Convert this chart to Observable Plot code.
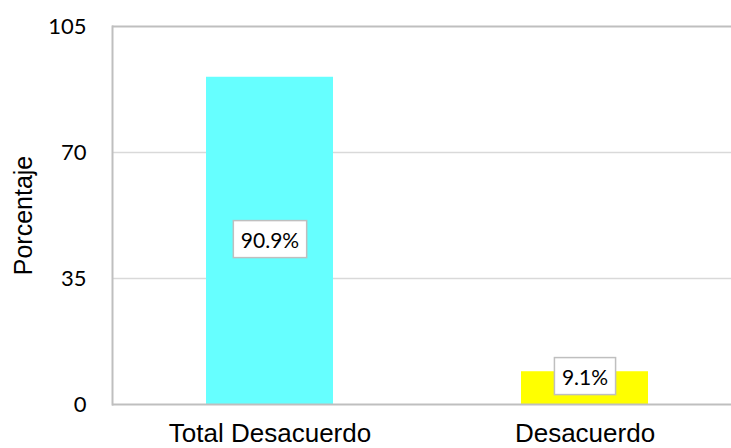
<!DOCTYPE html>
<html>
<head>
<meta charset="utf-8">
<script src="https://cdn.jsdelivr.net/npm/d3@7"></script>
<script src="https://cdn.jsdelivr.net/npm/@observablehq/plot@0.6"></script>
<style>
  html, body { margin: 0; padding: 0; background: #fff; }
  #chart svg { display: block; overflow: visible; }
</style>
</head>
<body>
<div id="chart"></div>
<script>
const categories = ["Total Desacuerdo", "Desacuerdo"];
const values = [90.9, 9.1];
const barColors = ["#66FFFF", "#FFFF00"];
const yTicks = [0, 35, 70, 105];
const yLabel = "Porcentaje";

const data = categories.map((c, i) => ({cat: c, value: values[i], color: barColors[i]}));

const chart = Plot.plot({
  width: 731,
  height: 448,
  marginLeft: 112,
  marginRight: 0,
  marginTop: 26,
  marginBottom: 44,
  style: {fontFamily: "Liberation Sans, Arial, sans-serif", background: "#fff"},
  x: {domain: categories, range: [112, 742], padding: 0},
  y: {domain: [0, 105]},
  color: {type: "identity"},
  marks: [
    Plot.ruleY([35, 70], {stroke: "#d9d9d9", strokeWidth: 1.5}),
    Plot.barY(data, {x: "cat", y: "value", fill: "color", insetLeft: 94, insetRight: 94}),
    Plot.ruleY([0, 105], {stroke: "#bfbfbf", strokeWidth: 2}),
    Plot.frame({anchor: "left", stroke: "#bfbfbf", strokeWidth: 2}),
    Plot.axisY({ticks: yTicks, tickSize: 0, tickPadding: 26, fontSize: 22, fontFamily: "Lato", label: null, fill: "#000"}),
    Plot.axisX({tickSize: 0, tickPadding: 19, fontSize: 26, fontFamily: "Liberation Sans", label: null, fill: "#000"}),
    Plot.text(data, {
      x: "cat",
      y: d => Math.max(d.value / 2, 7.4),
      text: d => d.value.toFixed(1) + "%",
      fontSize: 21,
      fontFamily: "Lato",
      fill: "#000",
      ariaLabel: "data-labels"
    }),
    Plot.text([yLabel], {
      frameAnchor: "left",
      textAnchor: "middle",
      rotate: -90,
      dx: -89,
      fontSize: 25,
      fontFamily: "Liberation Sans",
      fill: "#000"
    })
  ]
});

document.getElementById("chart").appendChild(chart);

// white label boxes behind data labels
const labelTexts = Array.from(chart.querySelectorAll("text")).filter(t => /%$/.test(t.textContent.trim()));
labelTexts.forEach(t => {
  const bb = t.getBBox();
  const r = document.createElementNS("http://www.w3.org/2000/svg", "rect");
  const padX = 7.5, boxH = 37;
  r.setAttribute("x", bb.x - padX);
  r.setAttribute("y", bb.y + bb.height / 2 - boxH / 2);
  r.setAttribute("width", bb.width + 2 * padX);
  r.setAttribute("height", boxH);
  r.setAttribute("fill", "#fff");
  r.setAttribute("stroke", "#bfbfbf");
  r.setAttribute("stroke-width", "1.5");
  const tr = t.getAttribute("transform");
  if (tr) r.setAttribute("transform", tr);
  t.parentNode.insertBefore(r, t);
});
</script>
</body>
</html>
